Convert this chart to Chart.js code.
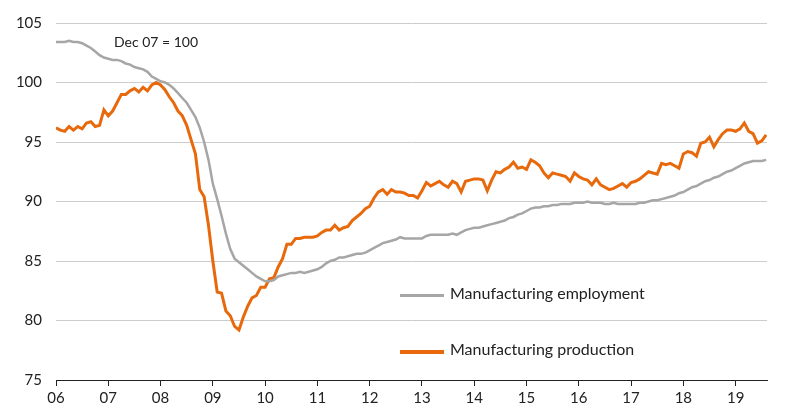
<!DOCTYPE html>
<html><head><meta charset="utf-8">
<script src="https://cdn.jsdelivr.net/npm/chart.js@4/dist/chart.umd.min.js"></script>
<style>
html,body{margin:0;padding:0;background:#fff;}
#wrap{position:relative;width:800px;height:412px;font-family:Lato,"Open Sans",sans-serif;}
.lbl{position:absolute;font-size:16px;color:#222;white-space:nowrap;}
.key{position:absolute;height:0;}
</style></head><body>
<div id="wrap">
<canvas id="c" width="800" height="412"></canvas>
<div class="lbl" style="left:114px;top:33px;font-size:14px;">Dec 07 = 100</div>
<div class="key" style="left:400px;top:294px;width:44px;border-top:3px solid #a6a6a6;"></div>
<div class="lbl" style="left:450px;top:283px;">Manufacturing employment</div>
<div class="key" style="left:400px;top:350px;width:44px;border-top:4px solid #e8690b;"></div>
<div class="lbl" style="left:450px;top:339px;">Manufacturing production</div>
</div>
<script>
const startYear = 2006;
const yearTicks = ["06","07","08","09","10","11","12","13","14","15","16","17","18","19"];
const employment = [
103.4,103.4,103.4,103.5,103.4,103.4,103.3,103.1,102.9,102.6,102.3,102.1,
102.0,101.9,101.9,101.8,101.6,101.5,101.3,101.2,101.1,100.9,100.5,100.3,
100.1,100.0,99.8,99.5,99.1,98.7,98.3,97.7,97.1,96.2,95.0,93.5,
91.5,90.2,88.8,87.3,86.0,85.2,84.9,84.6,84.3,84.0,83.7,83.5,
83.3,83.3,83.4,83.7,83.8,83.9,84.0,84.0,84.1,84.0,84.1,84.2,
84.3,84.5,84.8,85.0,85.1,85.3,85.3,85.4,85.5,85.6,85.6,85.7,
85.9,86.1,86.3,86.5,86.6,86.7,86.8,87.0,86.9,86.9,86.9,86.9,
86.9,87.1,87.2,87.2,87.2,87.2,87.2,87.3,87.2,87.4,87.6,87.7,
87.8,87.8,87.9,88.0,88.1,88.2,88.3,88.4,88.6,88.7,88.9,89.0,
89.2,89.4,89.5,89.5,89.6,89.6,89.7,89.7,89.8,89.8,89.8,89.9,
89.9,89.9,90.0,89.9,89.9,89.9,89.8,89.8,89.9,89.8,89.8,89.8,
89.8,89.8,89.9,89.9,90.0,90.1,90.1,90.2,90.3,90.4,90.5,90.7,
90.8,91.0,91.2,91.3,91.5,91.7,91.8,92.0,92.1,92.3,92.5,92.6,
92.8,93.0,93.2,93.3,93.4,93.4,93.4,93.5];
const production = [
96.2,96.0,95.9,96.3,96.0,96.3,96.1,96.6,96.7,96.3,96.4,97.7,
97.2,97.6,98.3,99.0,99.0,99.3,99.5,99.2,99.6,99.3,99.8,100.0,
99.8,99.4,98.8,98.3,97.6,97.2,96.4,95.2,94.0,91.0,90.4,88.0,
85.0,82.4,82.3,80.8,80.4,79.5,79.2,80.3,81.2,81.9,82.1,82.8,
82.8,83.5,83.6,84.5,85.2,86.4,86.4,86.9,86.9,87.0,87.0,87.0,
87.1,87.4,87.6,87.6,88.0,87.6,87.8,87.9,88.4,88.7,89.0,89.4,
89.6,90.3,90.8,91.0,90.6,91.0,90.8,90.8,90.7,90.5,90.5,90.3,
90.9,91.6,91.3,91.5,91.7,91.4,91.2,91.7,91.5,90.8,91.7,91.8,
91.9,91.9,91.8,90.9,91.8,92.5,92.4,92.7,92.9,93.3,92.8,92.9,
92.7,93.5,93.3,93.0,92.4,92.0,92.4,92.3,92.2,92.1,91.7,92.4,
92.1,91.9,91.8,91.4,91.9,91.4,91.2,91.0,91.1,91.3,91.5,91.2,
91.6,91.7,91.9,92.2,92.5,92.4,92.3,93.2,93.1,93.2,93.0,92.8,
94.0,94.2,94.1,93.8,94.9,95.0,95.4,94.6,95.2,95.7,96.0,96.0,
95.9,96.1,96.6,95.9,95.7,94.9,95.1,95.6];
const toXY = arr => arr.map((v,i)=>({x:i/12, y:v}));
new Chart(document.getElementById('c'),{
  type:'line',
  data:{datasets:[
    {data:toXY(employment),borderColor:'#a6a6a6',borderWidth:2.5,pointRadius:0,tension:0},
    {data:toXY(production),borderColor:'#e8690b',borderWidth:3,pointRadius:0,tension:0}
  ]},
  options:{
    responsive:false,animation:false,
    layout:{padding:{left:0,right:33,top:17,bottom:2}},
    plugins:{legend:{display:false},tooltip:{enabled:false}},
    scales:{
      x:{type:'linear',min:0,max:13.6,
        afterBuildTicks:ax=>{ax.ticks=yearTicks.map((t,i)=>({value:i}));},
        ticks:{callback:(v)=>yearTicks[v]??'',color:'#222',font:{family:'Lato',size:15},autoSkip:false,maxRotation:0},
        grid:{display:true,drawOnChartArea:false,drawTicks:true,tickLength:6,color:'#222'},
        border:{color:'#222'}},
      y:{min:75,max:105,afterFit:ax=>{ax.width=56;},
        ticks:{stepSize:5,color:'#222',font:{family:'Lato',size:15},padding:14},
        grid:{color:'#cccccc',drawTicks:false},
        border:{display:false}}
    }
  }
});
</script>
</body></html>
